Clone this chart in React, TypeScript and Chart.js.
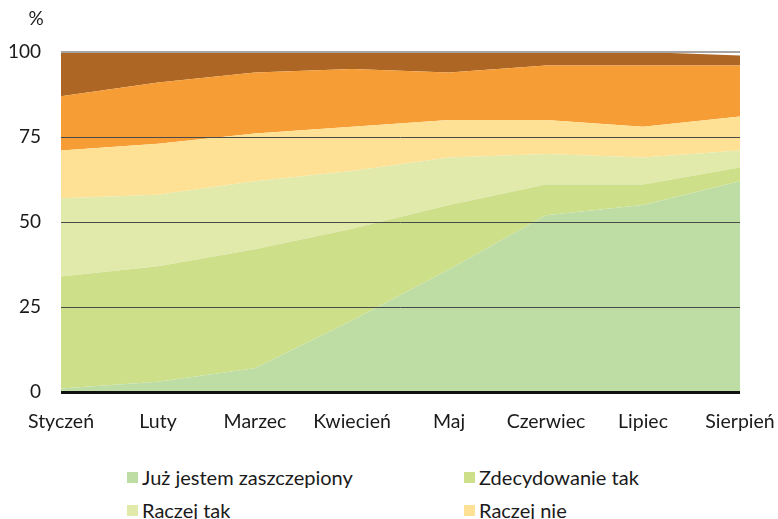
import React, { useEffect, useRef } from "react";
import { Chart, registerables } from "chart.js";

Chart.register(...registerables);

const months = ["Styczeń", "Luty", "Marzec", "Kwiecień", "Maj", "Czerwiec", "Lipiec", "Sierpień"];
const seriesLabels = [
  "Już jestem zaszczepiony",
  "Zdecydowanie tak",
  "Raczej tak",
  "Raczej nie",
  "Zdecydowanie nie",
  "Nie wiem",
];
const juzZaszczepiony = [1, 3, 7, 21, 36, 52, 55, 62];
const zdecydowanieTak = [33, 34, 35, 27, 19, 9, 6, 4];
const raczejTak = [23, 21, 20, 17, 14, 9, 8, 5];
const raczejNie = [14, 15, 14, 13, 11, 10, 9, 10];
const zdecydowanieNie = [16, 18, 18, 17, 14, 16, 18, 15];
const nieWiem = [13, 9, 6, 5, 6, 4, 4, 3];
const yTicks = [0, 25, 50, 75, 100];
const colors = ["#BEDDA4", "#CEDF8A", "#E1E9AB", "#FEE194", "#F69D36", "#AD6623"];

const FONT = "Lato, 'Open Sans', sans-serif";

export default function App() {
  const ref = useRef<HTMLCanvasElement>(null);
  useEffect(() => {
    if (!ref.current) return;
    const seriesData = [juzZaszczepiony, zdecydowanieTak, raczejTak, raczejNie, zdecydowanieNie, nieWiem];
    const pctPlugin = {
      id: "pct",
      afterDraw(chart: any) {
        const c = chart.ctx;
        c.save();
        c.font = `19px ${FONT}`;
        c.fillStyle = "#1a1a1a";
        c.textAlign = "center";
        c.textBaseline = "middle";
        c.fillText("%", 36, 19);
        c.restore();
      },
    };
    const chart = new Chart(ref.current, {
      type: "line",
      data: {
        labels: months,
        datasets: seriesData.map((d, i) => ({
          label: seriesLabels[i],
          data: d,
          backgroundColor: colors[i],
          borderColor: colors[i],
          borderWidth: 0,
          pointRadius: 0,
          tension: 0,
          fill: i === 0 ? "origin" : "-1",
        })),
      },
      options: {
        animation: false,
        responsive: false,
        layout: { padding: { top: 52, right: 0, left: 0, bottom: 0 } },
        plugins: { legend: { display: false }, tooltip: { enabled: false } },
        scales: {
          x: {
            offset: false,
            grid: { display: false },
            border: { display: false },
            ticks: { font: { family: FONT, size: 19.5 }, color: "#1a1a1a", padding: 10, maxRotation: 0, autoSkip: false },
            afterFit: (s: any) => { s.height = 58; s.paddingRight = 38; s.paddingLeft = 0; },
          },
          y: {
            stacked: true,
            min: 0,
            max: 100,
            afterBuildTicks: (s: any) => { s.ticks = yTicks.map((v) => ({ value: v })); },
            ticks: { font: { family: FONT, size: 19 }, color: "#1a1a1a", padding: 20 },
            border: { display: false },
            grid: {
              z: 1,
              drawTicks: false,
              color: (ctx: any) => (ctx.tick.value === 0 ? "#111111" : ctx.tick.value === 100 ? "#A6A6A6" : "#4a4a4a"),
              lineWidth: (ctx: any) => (ctx.tick.value === 0 ? 3 : ctx.tick.value === 100 ? 2 : 1),
            },
            afterFit: (s: any) => { s.width = 61; },
          },
        },
      },
      plugins: [pctPlugin],
    });
    return () => chart.destroy();
  }, []);

  const legendPos = [
    { left: 127, top: 470 },
    { left: 464, top: 470 },
    { left: 127, top: 503 },
    { left: 464, top: 503 },
    { left: 127, top: 536 },
    { left: 464, top: 536 },
  ];

  return (
    <div style={{ position: "absolute", left: 0, top: 0, width: 778, height: 519, overflow: "hidden", background: "#fff" }}>
      <canvas ref={ref} width={778} height={450} style={{ position: "absolute", left: 0, top: 0 }} />
      {seriesLabels.map((l, i) => (
        <div
          key={l}
          style={{
            position: "absolute",
            left: legendPos[i].left,
            top: legendPos[i].top,
            display: "flex",
            alignItems: "center",
            fontFamily: FONT,
            fontSize: 20,
            color: "#1a1a1a",
            lineHeight: "14px",
            whiteSpace: "nowrap",
          }}
        >
          <span style={{ display: "inline-block", width: 11, height: 11, background: colors[i], marginRight: 4 }} />
          <span>{l}</span>
        </div>
      ))}
    </div>
  );
}
